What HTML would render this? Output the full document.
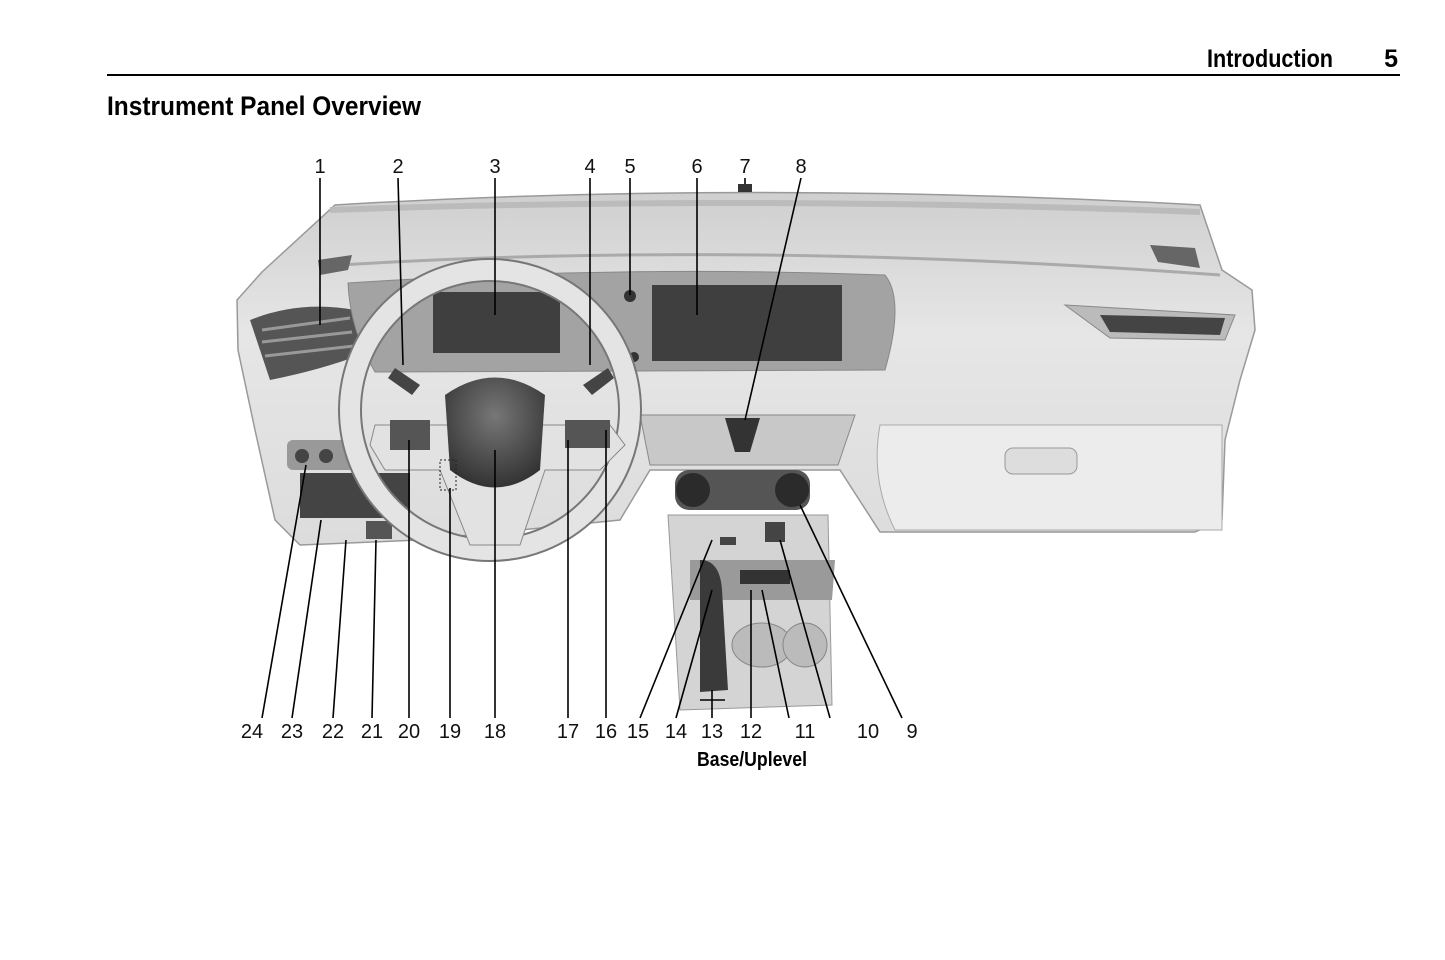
<!DOCTYPE html>
<html><head><meta charset="utf-8"><style>
body{margin:0;background:#fff;width:1445px;height:960px;overflow:hidden;font-family:"Liberation Sans",sans-serif}
svg{position:absolute;left:0;top:0}
</style></head><body>
<svg width="1445" height="960" viewBox="0 0 1445 960">
<defs>
<linearGradient id="g1" x1="0" y1="0" x2="0" y2="1">
<stop offset="0" stop-color="#cfcfcf"/><stop offset="0.4" stop-color="#e6e6e6"/><stop offset="1" stop-color="#dcdcdc"/></linearGradient>
<radialGradient id="hub" cx="0.5" cy="0.35" r="0.7"><stop offset="0" stop-color="#777"/><stop offset="1" stop-color="#2e2e2e"/></radialGradient>
</defs>
<text x="1333" y="67" font-size="25" font-weight="bold" text-anchor="end" font-family="Liberation Sans Narrow,Liberation Sans,sans-serif" textLength="126" lengthAdjust="spacingAndGlyphs">Introduction</text>
<text x="1398" y="67" font-size="25" font-weight="bold" text-anchor="end">5</text>
<rect x="107" y="74" width="1293" height="2" fill="#000"/>
<text x="107" y="115" font-size="27" font-weight="bold" textLength="314" lengthAdjust="spacingAndGlyphs">Instrument Panel Overview</text>

<!-- dash body -->
<path d="M262,272 L335,205 Q745,180 1200,205 L1222,270 L1252,290 L1255,330 L1240,380 L1225,440 L1222,520 L1195,532 L880,532 L840,470 L650,470 L620,520 L420,540 L300,545 L275,520 L255,430 L238,350 L237,300 Z" fill="url(#g1)" stroke="#999" stroke-width="1.5"/>
<path d="M340,265 Q745,240 1220,275" fill="none" stroke="#aaa" stroke-width="3"/>
<path d="M330,210 Q745,195 1200,212" fill="none" stroke="#bbb" stroke-width="6"/>
<!-- left vent -->
<path d="M250,320 Q300,300 355,310 L360,355 Q320,370 270,380 Z" fill="#555"/>
<path d="M262,330 L350,318 M262,342 L352,332 M265,356 L354,346" stroke="#999" stroke-width="3"/>
<!-- right vent -->
<path d="M1065,305 L1235,315 L1225,340 L1110,338 Z" fill="#bbb" stroke="#888"/>
<path d="M1100,315 L1225,318 L1220,335 L1110,332 Z" fill="#444"/>
<path d="M1150,245 L1195,248 L1200,268 L1158,262 Z" fill="#666"/>
<path d="M318,260 L352,255 L348,270 L320,275 Z" fill="#666"/>
<!-- screen panel -->
<path d="M348,283 Q620,265 885,275 Q905,300 885,370 L375,372 Q350,330 348,283 Z" fill="#a3a3a3" stroke="#888"/>
<rect x="433" y="292" width="127" height="61" fill="#3f3f3f"/>
<rect x="652" y="285" width="190" height="76" fill="#3f3f3f"/>
<circle cx="630" cy="296" r="6" fill="#333"/>
<circle cx="634" cy="357" r="5" fill="#333"/>
<!-- glovebox -->
<path d="M880,425 L1222,425 L1222,530 L895,530 Q870,480 880,425 Z" fill="#ececec" stroke="#aaa"/>
<rect x="1005" y="448" width="72" height="26" rx="8" fill="#ddd" stroke="#999"/>
<!-- center vents -->
<path d="M640,415 L855,415 L838,465 L650,465 Z" fill="#c8c8c8" stroke="#888"/>
<path d="M725,418 L760,418 L750,452 L735,452 Z" fill="#333"/>
<!-- climate -->
<rect x="675" y="470" width="135" height="40" rx="14" fill="#555"/>
<circle cx="693" cy="490" r="17" fill="#2b2b2b"/><circle cx="792" cy="490" r="17" fill="#2b2b2b"/>
<!-- console -->
<path d="M668,515 L828,515 L832,705 L680,710 Z" fill="#d4d4d4" stroke="#999"/>
<rect x="765" y="522" width="20" height="20" fill="#444"/>
<rect x="720" y="537" width="16" height="8" fill="#444"/>
<path d="M690,560 L835,560 L832,600 L690,600 Z" fill="#9a9a9a"/>
<rect x="740" y="570" width="50" height="14" fill="#333"/>
<path d="M700,560 Q720,560 722,590 L728,690 L700,692 Z" fill="#3a3a3a"/>
<ellipse cx="762" cy="645" rx="30" ry="22" fill="#bbb" stroke="#888"/>
<ellipse cx="805" cy="645" rx="22" ry="22" fill="#bbb" stroke="#888"/>
<!-- left lower -->
<rect x="287" y="440" width="70" height="30" rx="6" fill="#999"/>
<circle cx="302" cy="456" r="7" fill="#444"/><circle cx="326" cy="456" r="7" fill="#444"/>
<rect x="300" y="473" width="110" height="45" fill="#444"/>
<rect x="366" y="521" width="26" height="18" fill="#555"/>
<!-- steering wheel -->
<ellipse cx="490" cy="410" rx="140" ry="140" fill="none" stroke="#e4e4e4" stroke-width="22"/>
<ellipse cx="490" cy="410" rx="151" ry="151" fill="none" stroke="#777" stroke-width="2"/>
<ellipse cx="490" cy="410" rx="129" ry="129" fill="none" stroke="#777" stroke-width="2"/>
<path d="M375,425 L610,425 L625,445 L600,470 L545,470 L520,545 L470,545 L440,470 L385,470 L370,445 Z" fill="#e2e2e2" stroke="#888"/>
<rect x="390" y="420" width="40" height="30" fill="#555"/>
<rect x="565" y="420" width="45" height="28" fill="#555"/>
<path d="M395,368 L420,385 L412,395 L388,378 Z" fill="#444"/>
<path d="M583,385 L608,368 L614,378 L592,395 Z" fill="#444"/>
<path d="M445,395 Q495,360 545,395 L540,470 Q495,505 450,470 Z" fill="url(#hub)"/>
<rect x="440" y="460" width="16" height="30" fill="none" stroke="#222" stroke-dasharray="2,2"/>
<!-- camera -->
<rect x="738" y="184" width="14" height="8" fill="#333"/>

<!-- leader lines -->
<g stroke="#000" stroke-width="1.6" fill="none">
<path d="M320,178 L320,325"/><path d="M398,178 L403,365"/><path d="M495,178 L495,315"/>
<path d="M590,178 L590,365"/><path d="M630,178 L630,295"/><path d="M697,178 L697,315"/>
<path d="M745,178 L745,184"/><path d="M801,178 L745,420"/>
<path d="M262,718 L306,465"/><path d="M292,718 L321,520"/><path d="M333,718 L346,540"/><path d="M372,718 L376,540"/>
<path d="M409,718 L409,440"/><path d="M450,718 L450,488"/><path d="M495,718 L495,450"/>
<path d="M568,718 L568,440"/><path d="M606,718 L606,430"/>
<path d="M640,718 L712,540"/><path d="M676,718 L712,590"/><path d="M712,718 L712,690"/>
<path d="M751,718 L751,590"/><path d="M789,718 L762,590"/><path d="M830,718 L780,540"/><path d="M902,718 L800,505"/>
<path d="M700,700 L725,700"/>
</g>
<g font-size="20" text-anchor="middle" fill="#111">
<text x="320" y="173">1</text><text x="398" y="173">2</text><text x="495" y="173">3</text><text x="590" y="173">4</text>
<text x="630" y="173">5</text><text x="697" y="173">6</text><text x="745" y="173">7</text><text x="801" y="173">8</text>
<text x="252" y="738">24</text><text x="292" y="738">23</text><text x="333" y="738">22</text><text x="372" y="738">21</text>
<text x="409" y="738">20</text><text x="450" y="738">19</text><text x="495" y="738">18</text><text x="568" y="738">17</text>
<text x="606" y="738">16</text><text x="638" y="738">15</text><text x="676" y="738">14</text><text x="712" y="738">13</text>
<text x="751" y="738">12</text><text x="805" y="738">11</text><text x="868" y="738">10</text><text x="912" y="738">9</text>
</g>
<text x="752" y="766" font-size="20" font-weight="bold" text-anchor="middle" textLength="110" lengthAdjust="spacingAndGlyphs">Base/Uplevel</text>
</svg>
</body></html>
